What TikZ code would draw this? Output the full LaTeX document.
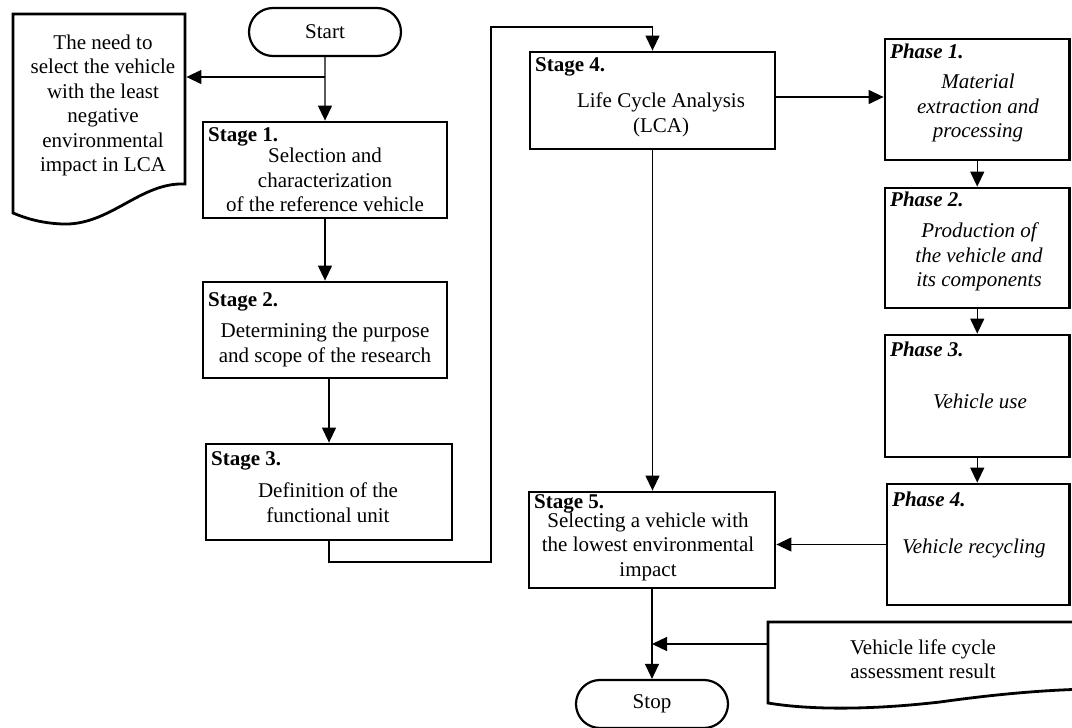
\documentclass[tikz,border=0pt]{standalone}
\usepackage{fontspec}
\setmainfont{Liberation Serif}
\usetikzlibrary{arrows.meta,calc,shapes.misc}
\begin{document}
\begin{tikzpicture}[x=1pt,y=-1pt,
  box/.style={draw, line width=2.8pt, rectangle, inner sep=0pt},
  oval/.style={draw, line width=2.2pt, rounded rectangle, minimum width=152pt, minimum height=48pt, inner sep=0pt, font=\fontsize{21}{24.5}\selectfont},
  docnode/.style={inner sep=0pt, outer sep=1.4pt},
  txt/.style={align=center, inner sep=0pt, font=\fontsize{21}{24.5}\selectfont, execute at begin node=\strut, execute at end node=\strut},
  itxt/.style={txt, font=\fontsize{21}{24.5}\selectfont\itshape},
  lbl/.style={anchor=base west, inner sep=0pt, font=\fontsize{21}{24.5}\selectfont\bfseries},
  plbl/.style={lbl, font=\fontsize{21}{24.5}\selectfont\bfseries\itshape},
  conn/.style={line width=1.3pt},
  arr/.style={conn, -{Triangle[length=15pt,width=14pt]}},
  docline/.style={line width=2.8pt, line join=miter}
]
\useasboundingbox (0,0) rectangle (1072,728);

% terminals
\node[oval] (start) at (325,32) {Start};
\node[oval] (stop) at (652,704) {Stop};

% left document
\node[docnode, minimum width=172pt, minimum height=210pt] (need) at (99,119) {};
\draw[docline] (13,14) -- (185,14) -- (185,184)
  .. controls (140,182) and (110,226) .. (62,224)
  .. controls (40,223) and (25,218) .. (13,213) -- cycle;
\node[txt] (needtxt) at (103,107) {The need to\\select the vehicle\\with the least\\negative\\environmental\\impact in LCA};

% stages
\node[box, minimum width=244pt, minimum height=96pt] (s1) at (325,170) {};
\node[lbl] (s1l) at (208,141.5) {Stage 1.};
\node[txt] (s1t) at (325,183.5) {Selection and\\characterization\\of the reference vehicle};

\node[box, minimum width=244pt, minimum height=96pt] (s2) at (325,330) {};
\node[lbl] (s2l) at (208,306.5) {Stage 2.};
\node[txt] (s2t) at (325,346.5) {Determining the purpose\\and scope of the research};

\node[box, minimum width=246pt, minimum height=96pt] (s3) at (329,492) {};
\node[lbl] (s3l) at (211,465.5) {Stage 3.};
\node[txt] (s3t) at (328,506.5) {Definition of the\\functional unit};

\node[box, minimum width=245pt, minimum height=97pt] (s4) at (652.5,100.5) {};
\node[lbl] (s4l) at (535,71.5) {Stage 4.};
\node[txt] (s4t) at (661,116.5) {Life Cycle Analysis\\(LCA)};

\node[box, minimum width=246pt, minimum height=96pt] (s5) at (652,540) {};
\node[lbl] (s5l) at (534,508.5) {Stage 5.};
\node[txt] (s5t) at (648,548) {Selecting a vehicle with\\the lowest environmental\\impact};

% phases
\node[box, minimum width=184.5pt, minimum height=121pt] (p1) at (977.25,99.5) {};
\node[plbl] (p1l) at (890,58.5) {Phase 1.};
\node[itxt] (p1t) at (978,109.5) {Material\\extraction and\\processing};

\node[box, minimum width=184.5pt, minimum height=120pt] (p2) at (977.25,248) {};
\node[plbl] (p2l) at (890,206.5) {Phase 2.};
\node[itxt] (p2t) at (979,258.5) {Production of\\the vehicle and\\its components};

\node[box, minimum width=184.5pt, minimum height=122pt] (p3) at (977.25,396) {};
\node[plbl] (p3l) at (890,356.5) {Phase 3.};
\node[itxt] (p3t) at (980,403.5) {Vehicle use};

\node[box, minimum width=182.5pt, minimum height=121pt] (p4) at (978.25,544.5) {};
\node[plbl] (p4l) at (892,506.5) {Phase 4.};
\node[itxt] (p4t) at (974,548.5) {Vehicle recycling};

% result document
\node[docnode, minimum width=322pt, minimum height=86pt] (result) at (929,665) {};
\draw[docline] (1090,622) -- (768,622) -- (768,703)
  .. controls (810,710) and (870,710) .. (940,702)
  .. controls (990,695) and (1040,690) .. (1090,689);
\node[txt] (restxt) at (923,663) {Vehicle life cycle\\assessment result};

% helper coordinates
\coordinate (j1) at (325,77);
\coordinate (lp1) at (491,562);
\coordinate (lp2) at (491,27);
\coordinate (j2) at (652,644);

% connectors
\draw[arr] (start) -- (s1);
\draw[arr] (j1) -- (j1 -| need.east);
\draw[arr] (s1) -- (s2);
\draw[arr] (s2.south -| s3.north) -- (s3.north);
\draw[arr] (s3.south) |- (lp1) -- (lp2) -| (s4.north);
\draw[arr] ([yshift=3.5pt]s4.east) -- ([yshift=3.5pt]s4.east -| p1.west);
\draw[arr] (p1.south) -- (p1.south |- p2.north);
\draw[arr] (p2.south) -- (p2.south |- p3.north);
\draw[arr] (p3.south) -- (p3.south |- p4.north);
\draw[arr] (s4.south) -- (s4.south |- s5.north);
\draw[arr] (p4.west) -- (p4.west -| s5.east);
\draw[arr] (s5.south) -- (s5.south |- stop.north);
\draw[arr] (result.west |- j2) -- (j2);
\end{tikzpicture}
\end{document}
